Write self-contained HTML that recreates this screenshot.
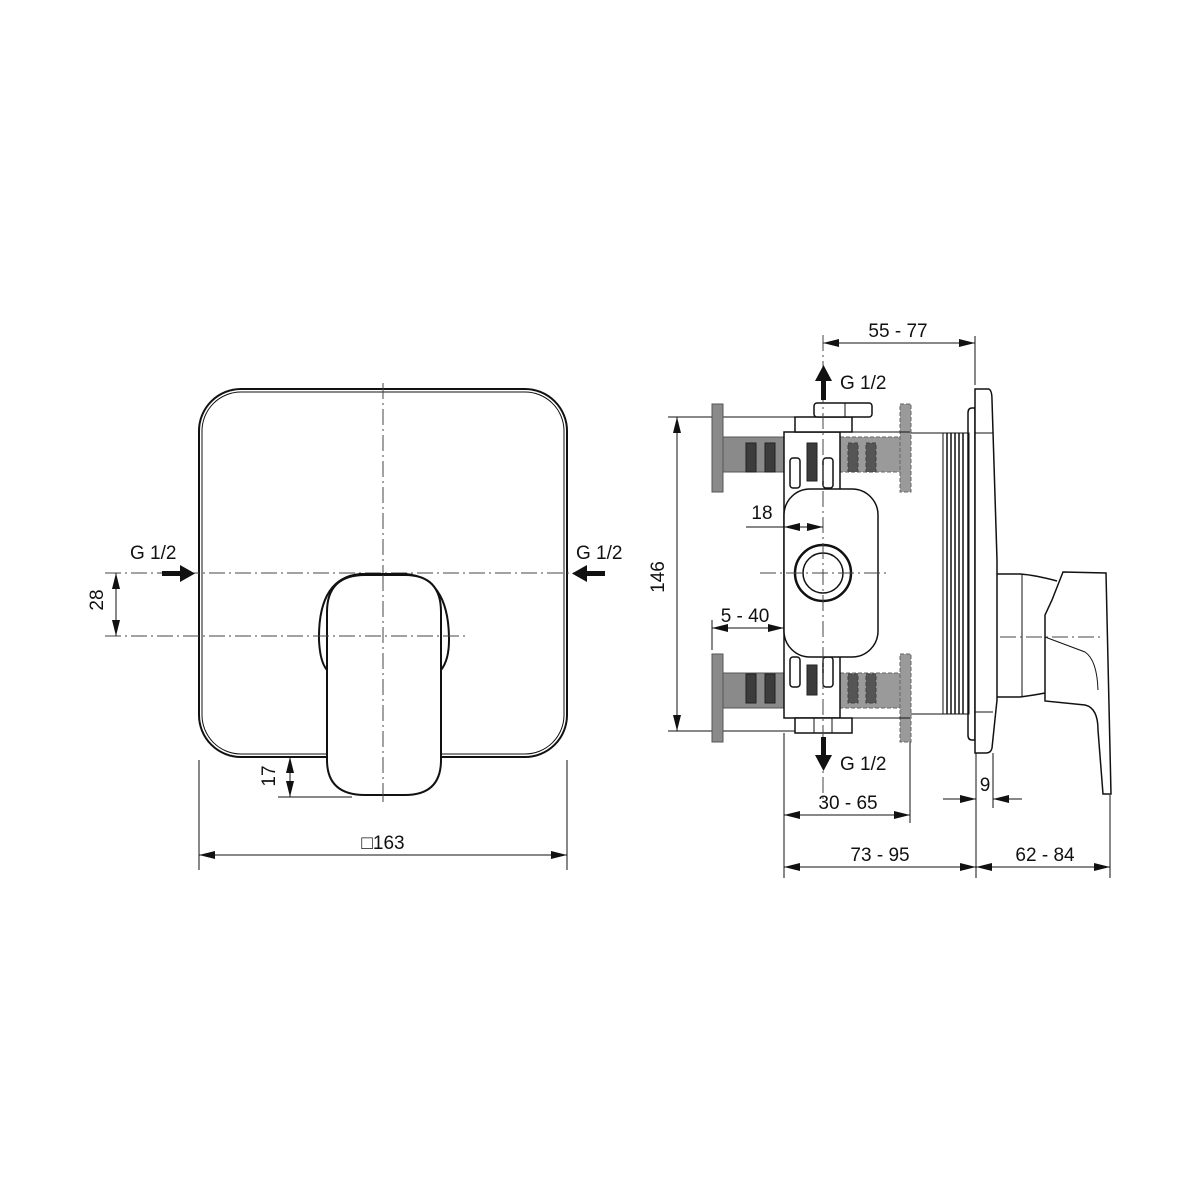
<!DOCTYPE html>
<html><head><meta charset="utf-8"><style>
html,body{margin:0;padding:0;background:#fff}
svg{display:block}
text{font-family:"Liberation Sans",sans-serif;font-size:19px;fill:#111}
</style></head><body>
<svg width="1200" height="1200" viewBox="0 0 1200 1200" xmlns="http://www.w3.org/2000/svg">
<defs>
<marker id="a" viewBox="0 0 16 8" refX="16" refY="4" markerWidth="16" markerHeight="8" markerUnits="userSpaceOnUse" orient="auto-start-reverse"><path d="M0,0L16,4L0,8z" fill="#111"/></marker>
</defs>
<g fill="none" stroke="#111" stroke-width="1">
<!-- LEFT VIEW -->
<rect x="199" y="389" width="368" height="368" rx="42" stroke-width="2"/>
<rect x="202" y="392" width="362" height="362" rx="39"/>
<g stroke="#444" stroke-dasharray="16,4,2,4">
<line x1="105" y1="573" x2="600" y2="573"/>
<line x1="105" y1="636" x2="465" y2="636"/>
<line x1="383" y1="383" x2="383" y2="802"/>
</g>
<path d="M319,640 Q318,578 360,574 L406,574 Q449,578 449,640 Q449,660 441,670" fill="#fff" stroke-width="2"/>
<path d="M319,640 Q320,662 327,670" stroke-width="2"/>
<path d="M327,612 Q327,575 365,575 L405,575 Q441,575 441,612 L441,760 Q441,795 405,795 L365,795 Q327,795 327,760 Z" fill="#fff" stroke-width="2"/>
<line x1="383" y1="575" x2="383" y2="802" stroke="#444" stroke-dasharray="16,4,2,4"/>
<line x1="105" y1="636" x2="465" y2="636" stroke="#444" stroke-dasharray="16,4,2,4"/>
<line x1="116" y1="573" x2="116" y2="636" marker-start="url(#a)" marker-end="url(#a)"/>
<line x1="290" y1="757" x2="290" y2="797" marker-start="url(#a)" marker-end="url(#a)"/>
<line x1="278" y1="797" x2="352" y2="797"/>
<line x1="199" y1="760" x2="199" y2="870"/>
<line x1="567" y1="760" x2="567" y2="870"/>
<line x1="199" y1="855" x2="567" y2="855" marker-start="url(#a)" marker-end="url(#a)"/>

<!-- RIGHT VIEW -->
<line x1="975" y1="336" x2="975" y2="385"/>
<line x1="823" y1="343" x2="975" y2="343" marker-start="url(#a)" marker-end="url(#a)"/>
<line x1="668" y1="417" x2="800" y2="417"/>
<line x1="668" y1="731" x2="800" y2="731"/>
<line x1="677" y1="417" x2="677" y2="731" marker-start="url(#a)" marker-end="url(#a)"/>
<g fill="#8a8a8a" stroke="#555">
<rect x="712" y="404" width="11" height="88"/>
<rect x="712" y="654" width="11" height="88"/>
<rect x="723" y="437" width="62" height="35"/>
<rect x="723" y="673" width="62" height="35"/>
</g>
<g fill="#3c3c3c" stroke="#222">
<rect x="746" y="443" width="10" height="29"/><rect x="765" y="443" width="10" height="29"/>
<rect x="746" y="674" width="10" height="29"/><rect x="765" y="674" width="10" height="29"/>
</g>
<g fill="#9a9a9a" stroke="#666" stroke-dasharray="4,2">
<rect x="840" y="437" width="62" height="35"/>
<rect x="840" y="673" width="62" height="35"/>
<rect x="900" y="404" width="11" height="88"/>
<rect x="900" y="654" width="11" height="88"/>
</g>
<g fill="#555" stroke="#444" stroke-dasharray="4,2">
<rect x="848" y="443" width="10" height="29"/><rect x="866" y="443" width="10" height="29"/>
<rect x="848" y="674" width="10" height="29"/><rect x="866" y="674" width="10" height="29"/>
</g>
<rect x="784" y="432" width="56" height="286" fill="#fff" stroke-width="1.5"/>
<g fill="#3c3c3c" stroke="#222"><rect x="807" y="443" width="10" height="38"/><rect x="807" y="665" width="10" height="30"/></g>
<rect x="795" y="417" width="57" height="15" fill="#fff" stroke-width="1.5"/>
<rect x="814" y="403" width="58" height="14" rx="3" fill="#fff" stroke-width="1.5"/>
<line x1="845" y1="403" x2="845" y2="417"/>
<rect x="795" y="718" width="57" height="15" fill="#fff" stroke-width="1.5"/>
<line x1="814" y1="718" x2="814" y2="733"/><line x1="832" y1="718" x2="832" y2="733"/>
<g stroke-width="1.5" fill="#fff">
<rect x="790" y="458" width="10" height="30" rx="3"/><rect x="823" y="458" width="10" height="30" rx="3"/>
<rect x="790" y="657" width="10" height="30" rx="3"/><rect x="823" y="657" width="10" height="30" rx="3"/>
</g>
<line x1="840" y1="432" x2="910" y2="432"/>
<line x1="840" y1="718" x2="910" y2="718"/>
<line x1="911" y1="433" x2="943" y2="433"/><line x1="911" y1="714" x2="943" y2="714"/>
<rect x="943" y="433" width="26" height="281"/>
<g stroke-width="1.5"><line x1="947" y1="433" x2="947" y2="714"/><line x1="951" y1="433" x2="951" y2="714"/><line x1="955" y1="433" x2="955" y2="714"/><line x1="959" y1="433" x2="959" y2="714"/><line x1="963" y1="433" x2="963" y2="714"/></g>
<rect x="784" y="489" width="94" height="168" rx="26" fill="#fff" stroke-width="1.5"/>
<circle cx="823" cy="573" r="28" stroke-width="2.5"/>
<circle cx="823" cy="573" r="20" stroke-width="1.5"/>
<path d="M968,413 Q968,408 972,408 L975,408 L975,740 L972,740 Q968,740 968,735 Z" stroke-width="1.5"/>
<path d="M975,389 L988,389 Q992,389 992,400 L997,560 L997,700 L992,748 Q991,753 986,753 L975,753 Z" fill="#fff" stroke-width="1.5"/>
<line x1="975" y1="433" x2="993" y2="433"/><line x1="975" y1="712" x2="993" y2="712"/>
<path d="M997,574 L1020,574 Q1035,575 1057,581 M997,697 L1020,697 Q1035,695 1045,693" stroke-width="1.5"/>
<line x1="1022" y1="574" x2="1022" y2="697"/>
<path d="M1063,572 L1106,573 L1111,794 L1103,794 L1098,730 Q1098,708 1085,705 L1045,701 L1045,615 L1052,600 Z" fill="#fff" stroke-width="1.5"/>
<path d="M1045,637 L1085,652 Q1097,660 1098,690"/>
<g stroke="#444" stroke-dasharray="16,4,2,4">
<line x1="823" y1="335" x2="823" y2="800"/>
<line x1="760" y1="573" x2="890" y2="573"/>
<line x1="1000" y1="637" x2="1103" y2="637"/>
</g>
<line x1="746" y1="527" x2="784" y2="527"/>
<line x1="784" y1="527" x2="823" y2="527" marker-start="url(#a)" marker-end="url(#a)"/>
<line x1="712" y1="620" x2="712" y2="650"/>
<line x1="712" y1="628" x2="784" y2="628" marker-start="url(#a)" marker-end="url(#a)"/>
<line x1="784" y1="733" x2="784" y2="878"/>
<line x1="910" y1="742" x2="910" y2="823"/>
<line x1="976" y1="753" x2="976" y2="878"/>
<line x1="993" y1="753" x2="993" y2="808"/>
<line x1="1110" y1="795" x2="1110" y2="878"/>
<line x1="784" y1="815" x2="910" y2="815" marker-start="url(#a)" marker-end="url(#a)"/>
<line x1="784" y1="867" x2="976" y2="867" marker-start="url(#a)" marker-end="url(#a)"/>
<line x1="976" y1="867" x2="1110" y2="867" marker-start="url(#a)" marker-end="url(#a)"/>
<line x1="943" y1="799" x2="976" y2="799" marker-end="url(#a)"/>
<line x1="1022" y1="799" x2="993" y2="799" marker-end="url(#a)"/>
</g>
<!-- bold G arrows -->
<g fill="#111">
<rect x="162" y="571" width="18" height="5"/><path d="M180,565 L195,573.5 L180,582 Z"/>
<rect x="587" y="571" width="18" height="5"/><path d="M587,565 L572,573.5 L587,582 Z"/>
<rect x="821" y="380" width="5" height="20"/><path d="M815,381 L823.5,365 L832,381 Z"/>
<rect x="821" y="737" width="5" height="18"/><path d="M815,755 L823.5,771 L832,755 Z"/>
</g>
<text x="130" y="559">G 1/2</text>
<text x="576" y="559">G 1/2</text>
<text transform="translate(103,600) rotate(-90)" text-anchor="middle">28</text>
<text transform="translate(275,776) rotate(-90)" text-anchor="middle">17</text>
<text x="383" y="849" text-anchor="middle">□163</text>
<text x="898" y="337" text-anchor="middle">55 - 77</text>
<text x="840" y="389">G 1/2</text>
<text transform="translate(664,577) rotate(-90)" text-anchor="middle">146</text>
<text x="762" y="519" text-anchor="middle">18</text>
<text x="745" y="622" text-anchor="middle">5 - 40</text>
<text x="840" y="770">G 1/2</text>
<text x="848" y="809" text-anchor="middle">30 - 65</text>
<text x="985" y="791" text-anchor="middle">9</text>
<text x="880" y="861" text-anchor="middle">73 - 95</text>
<text x="1045" y="861" text-anchor="middle">62 - 84</text>
</svg>
</body></html>
